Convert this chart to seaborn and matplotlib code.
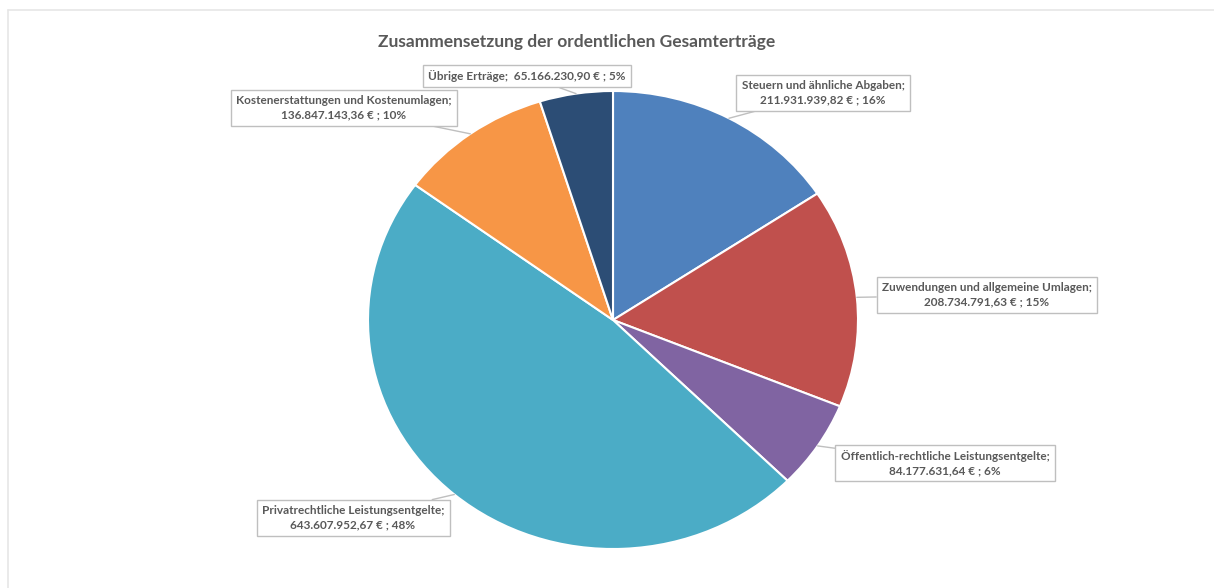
import numpy as np
import matplotlib
matplotlib.use("Agg")
import matplotlib.pyplot as plt
import seaborn as sns
from matplotlib.lines import Line2D

# ---------------------------------------------------------------------------
# Data
# ---------------------------------------------------------------------------
categories = [
    "Steuern und ähnliche Abgaben",
    "Zuwendungen und allgemeine Umlagen",
    "Öffentlich-rechtliche Leistungsentgelte",
    "Privatrechtliche Leistungsentgelte",
    "Kostenerstattungen und Kostenumlagen",
    "Übrige Erträge",
]
values = [211931939.82, 208734791.63, 84177631.64, 643607952.67, 136847143.36, 65166230.90]
value_labels = ["211.931.939,82", "208.734.791,63", "84.177.631,64",
                "643.607.952,67", "136.847.143,36", "65.166.230,90"]
colors = ["#4F81BD", "#C0504D", "#8064A2", "#4BACC6", "#F79646", "#2C4D75"]
title = "Zusammensetzung der ordentlichen Gesamterträge"

# label box centres (figure pixels, origin top-left) and line break style
label_pos = [(823, 93), (987, 295), (945, 463), (353, 518), (344, 108), (527, 76)]
one_line = [False, False, False, False, False, True]

# ---------------------------------------------------------------------------
# Figure
# ---------------------------------------------------------------------------
sns.set_style("white")
plt.rcParams["font.family"] = ["Lato", "DejaVu Sans"]

W, H = 1214, 588
fig = plt.figure(figsize=(W / 100, H / 100), dpi=100)

# faint chart frame
fig.add_artist(Line2D([8 / W, 8 / W], [0, 1 - 10 / H], color="#E6E6E6", lw=1.2))
fig.add_artist(Line2D([8 / W, 1], [1 - 10 / H, 1 - 10 / H], color="#E6E6E6", lw=1.2))

cx, cy, rx, ry = 613, 320, 245, 229
ax = fig.add_axes([(cx - rx) / W, (H - cy - ry) / H, 2 * rx / W, 2 * ry / H])

wedges, _ = ax.pie(values, colors=colors, startangle=90, counterclock=False,
                   wedgeprops=dict(edgecolor="white", linewidth=1.5))
ax.set_aspect("auto")
ax.set_xlim(-1, 1)
ax.set_ylim(-1, 1)

total = sum(values)
for i, w in enumerate(wedges):
    pct = round(values[i] / total * 100)
    if one_line[i]:
        txt = f"{categories[i]};  {value_labels[i]} € ; {pct}%"
    else:
        txt = f"{categories[i]};\n{value_labels[i]} € ; {pct}%"
    ang = np.deg2rad((w.theta1 + w.theta2) / 2)
    xy = (np.cos(ang), np.sin(ang))
    lx, ly = label_pos[i]
    ax.annotate(txt, xy=xy, xycoords="data",
                xytext=(lx, H - ly), textcoords="figure pixels",
                ha="center", va="center", fontsize=8.5, fontweight="bold",
                color="#595959", linespacing=1.35,
                bbox=dict(boxstyle="square,pad=0.45", fc="white", ec="#BFBFBF", lw=1),
                arrowprops=dict(arrowstyle="-", color="#BFBFBF", lw=1,
                                shrinkA=0, shrinkB=0))

fig.text(577 / W, 1 - 42 / H, title, ha="center", va="center",
         fontsize=12.5, fontweight="bold", color="#595959")

fig.savefig("out.png", dpi=100)
plt.close(fig)
